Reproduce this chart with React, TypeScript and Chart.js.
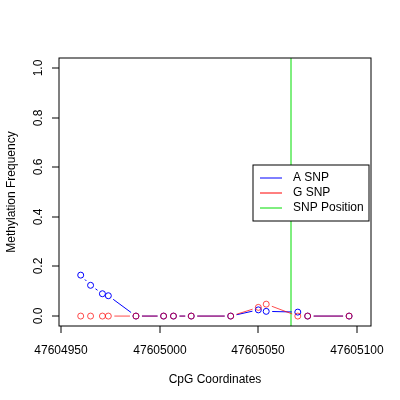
import { useEffect, useRef } from "react"
import { Chart, registerables } from "chart.js"

Chart.register(...registerables)

// CpG positions and methylation values
const positions = [
  47604960, 47604965, 47604971, 47604974, 47604988, 47605002, 47605007,
  47605016, 47605036, 47605050, 47605054, 47605070, 47605075, 47605096,
]
const aSnp = [0.165, 0.124, 0.09, 0.082, 0, 0, 0, 0, 0, 0.025, 0.019, 0.016, 0, 0]
const gSnp = [0, 0, 0, 0, 0, 0, 0, 0, 0, 0.035, 0.048, 0, 0, 0]
const snpPosition = 47605066.5
const xTicks = [47604950, 47605000, 47605050, 47605100]
const yTicks = [0, 0.2, 0.4, 0.6, 0.8, 1.0]
const legendLabels = ["A SNP", "G SNP", "SNP Position"]
const legendColors = ["#0000ff", "#ff0000", "#00dd00"]
const redStroke = "rgba(255,0,0,0.7)"

const FONT = "12px 'Liberation Sans', Arial, sans-serif"

// R-style "b" lines: segments between points leaving a gap around each point
const gapLines = {
  id: "gapLines",
  beforeDatasetsDraw(chart: Chart) {
    const ctx = chart.ctx
    const area = chart.chartArea
    const xs = chart.scales.x
    // SNP position marker
    ctx.save()
    ctx.strokeStyle = legendColors[2]
    ctx.lineWidth = 1
    const gx = Math.round(xs.getPixelForValue(snpPosition))
    ctx.beginPath()
    ctx.moveTo(gx, area.top)
    ctx.lineTo(gx, area.bottom)
    ctx.stroke()
    ctx.restore()

    const gap = 6
    const order = [1, 0]
    order.forEach((di) => {
      const meta = chart.getDatasetMeta(di)
      const color = chart.data.datasets[di].borderColor as string
      ctx.save()
      ctx.strokeStyle = color
      ctx.lineWidth = 1
      for (let i = 0; i < meta.data.length - 1; i++) {
        const a = meta.data[i]
        const b = meta.data[i + 1]
        const dx = b.x - a.x
        const dy = b.y - a.y
        const d = Math.sqrt(dx * dx + dy * dy)
        if (d <= gap * 2) continue
        const ux = dx / d
        const uy = dy / d
        ctx.beginPath()
        ctx.moveTo(a.x + ux * gap, a.y + uy * gap)
        ctx.lineTo(b.x - ux * gap, b.y - uy * gap)
        ctx.stroke()
      }
      ctx.restore()
    })
  },
  afterDraw(chart: Chart) {
    const ctx = chart.ctx
    const area = chart.chartArea
    const xs = chart.scales.x
    const ys = chart.scales.y
    ctx.save()
    ctx.strokeStyle = "#000"
    ctx.lineWidth = 1
    ctx.strokeRect(Math.round(area.left), Math.round(area.top),
      Math.round(area.right - area.left), Math.round(area.bottom - area.top))

    ctx.fillStyle = "#000"
    ctx.font = FONT
    ctx.textAlign = "center"
    ctx.textBaseline = "middle"
    const bottom = Math.round(area.bottom)
    xTicks.forEach((t) => {
      const px = Math.round(xs.getPixelForValue(t))
      ctx.beginPath()
      ctx.moveTo(px, bottom)
      ctx.lineTo(px, bottom + 7)
      ctx.stroke()
      ctx.fillText(String(t), px, 351)
    })
    const left = Math.round(area.left)
    yTicks.forEach((t) => {
      const py = Math.round(ys.getPixelForValue(t))
      ctx.beginPath()
      ctx.moveTo(left, py)
      ctx.lineTo(left - 7, py)
      ctx.stroke()
      ctx.save()
      ctx.translate(39, py)
      ctx.rotate(-Math.PI / 2)
      ctx.fillText(t.toFixed(1), 0, 0)
      ctx.restore()
    })

    ctx.fillText("CpG Coordinates", (area.left + area.right) / 2, 380)
    ctx.save()
    ctx.translate(12, (area.top + area.bottom) / 2)
    ctx.rotate(-Math.PI / 2)
    ctx.fillText("Methylation Frequency", 0, 0)
    ctx.restore()

    // legend
    ctx.fillStyle = "#fff"
    ctx.fillRect(253, 165, 116, 56)
    ctx.strokeRect(253, 165, 116, 56)
    ctx.textAlign = "left"
    legendLabels.forEach((label, i) => {
      const ly = 178 + i * 15
      ctx.strokeStyle = legendColors[i]
      ctx.beginPath()
      ctx.moveTo(260, ly)
      ctx.lineTo(282, ly)
      ctx.stroke()
      ctx.fillStyle = "#000"
      ctx.fillText(label, 293, ly)
    })
    ctx.restore()
  },
}

export default function App() {
  const chartRef = useRef<HTMLCanvasElement>(null)
  const chartInstance = useRef<Chart | null>(null)

  useEffect(() => {
    if (!chartRef.current) return
    if (chartInstance.current) chartInstance.current.destroy()
    const ctx = chartRef.current.getContext("2d")
    if (!ctx) return

    chartInstance.current = new Chart(ctx, {
      type: "scatter",
      data: {
        datasets: [
          {
            label: legendLabels[1],
            data: positions.map((x, i) => ({ x, y: gSnp[i] })),
            borderColor: redStroke,
            backgroundColor: "rgba(0,0,0,0)",
            pointRadius: 3,
            pointBorderWidth: 1,
            showLine: false,
          },
          {
            label: legendLabels[0],
            data: positions.map((x, i) => ({ x, y: aSnp[i] })),
            borderColor: legendColors[0],
            backgroundColor: "rgba(0,0,0,0)",
            pointRadius: 3,
            pointBorderWidth: 1,
            showLine: false,
          },
        ],
      },
      options: {
        responsive: false,
        animation: false,
        layout: { padding: { left: 59, top: 58, right: 29, bottom: 74 } },
        plugins: { legend: { display: false }, tooltip: { enabled: false } },
        scales: {
          x: { type: "linear", min: 47604949, max: 47605107.1, display: false },
          y: { min: -0.04, max: 1.04, display: false },
        },
      },
      plugins: [gapLines],
    })

    return () => {
      if (chartInstance.current) {
        chartInstance.current.destroy()
        chartInstance.current = null
      }
    }
  }, [])

  return (
    <div style={{ position: "fixed", left: 0, top: 0, width: 400, height: 400, background: "#fff" }}>
      <canvas ref={chartRef} width={400} height={400}></canvas>
    </div>
  )
}
